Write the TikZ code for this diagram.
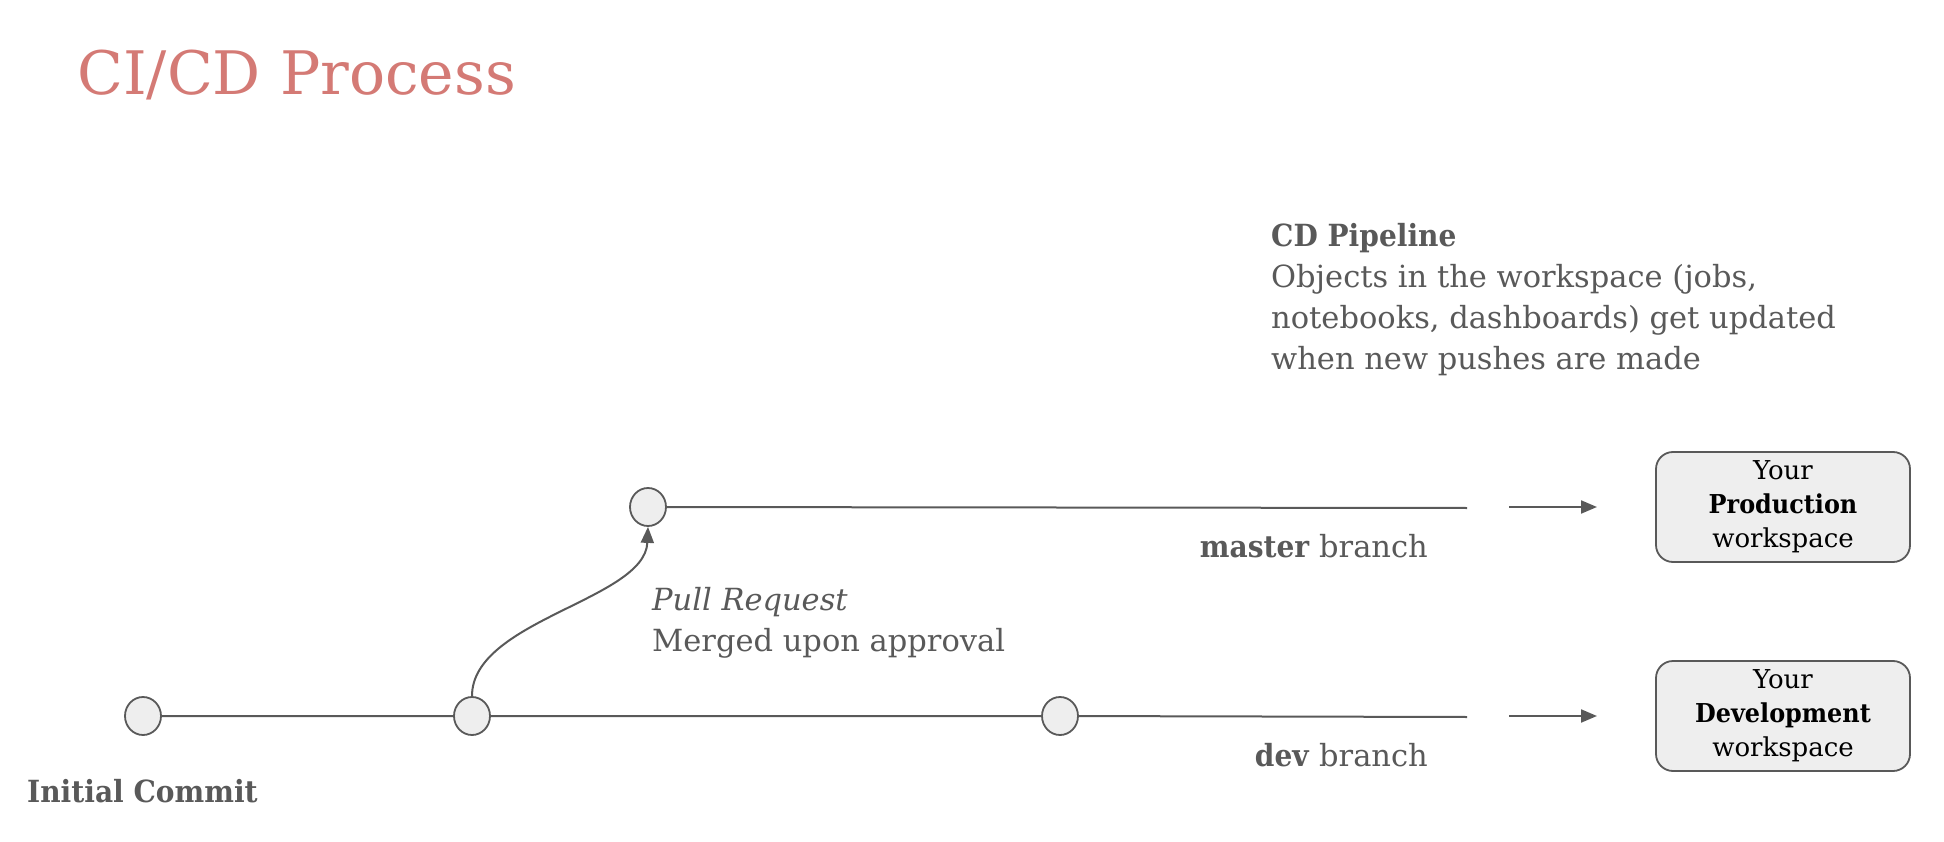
\documentclass[tikz,border=0pt]{standalone}
\usepackage{fontspec}
\setmainfont{DejaVu Serif}[BoldFeatures={FakeStretch=0.92}]
\usetikzlibrary{arrows.meta,shapes.geometric}
\definecolor{titlered}{HTML}{D47A75}
\definecolor{ink}{HTML}{595959}
\definecolor{nodefill}{HTML}{EEEEEE}
\begin{document}
\begin{tikzpicture}[x=1pt,y=-1pt,
  commit/.style={ellipse,draw=ink,fill=nodefill,line width=1.8pt,minimum width=36pt,minimum height=38pt,inner sep=0pt},
  branchline/.style={draw=ink,line width=2pt},
  flow/.style={draw=ink,line width=2pt,-{Triangle[length=16pt,width=13pt]}},
  body/.style={text=ink,font=\fontsize{30.5}{41}\selectfont,inner sep=0pt},
  ws/.style={rectangle,rounded corners=17pt,draw=ink,fill=nodefill,line width=1.8pt,minimum width=254pt,minimum height=110pt,align=center,font=\fontsize{26}{34}\selectfont,text=black,inner sep=0pt}]
\useasboundingbox (0,0) rectangle (1944,842);
% title
\node[anchor=base west,text=titlered,font=\fontsize{60}{72}\selectfont,inner sep=0pt] (title) at (77,95) {CI/CD Process};
% CD pipeline note
\node[body,anchor=north west,align=left] (cdnote) at (1271,223) {\textbf{CD Pipeline}\\Objects in the workspace (jobs,\\notebooks, dashboards) get updated\\when new pushes are made};
% commits
\node[commit] (c0) at (143,716) {};
\node[commit] (c1) at (472,716) {};
\node[commit] (c2) at (1060,716) {};
\node[commit] (m1) at (648,507) {};
\coordinate (mend) at (1467,508);
\coordinate (dend) at (1467,717);
\coordinate (ma1) at (1509,507);
\coordinate (ma2) at (1597,507);
\coordinate (da1) at (1509,716);
\coordinate (da2) at (1597,716);
% workspaces
\node[ws] (prod) at (1783,507) {Your\\\textbf{Production}\\workspace};
\node[ws] (dev) at (1783,716) {Your\\\textbf{Development}\\workspace};
% lines
\draw[branchline] (m1) -- (mend);
\draw[branchline] (c0) -- (c1) -- (c2) -- (dend);
\draw[flow] (ma1) -- (ma2);
\draw[flow] (da1) -- (da2);
\draw[flow] (c1.north) .. controls (472,620) and (645,600) .. (m1.south);
% labels
\node[body,anchor=base east] (mlabel) at (1428,557) {\textbf{master} branch};
\node[body,anchor=base east] (dlabel) at (1428,766) {\textbf{dev} branch};
\node[body,anchor=base west] (init) at (27,802) {\textbf{Initial Commit}};
\node[body,anchor=north west,align=left] (pr) at (652,587) {\textit{Pull Request}\\Merged upon approval};
\end{tikzpicture}
\end{document}
